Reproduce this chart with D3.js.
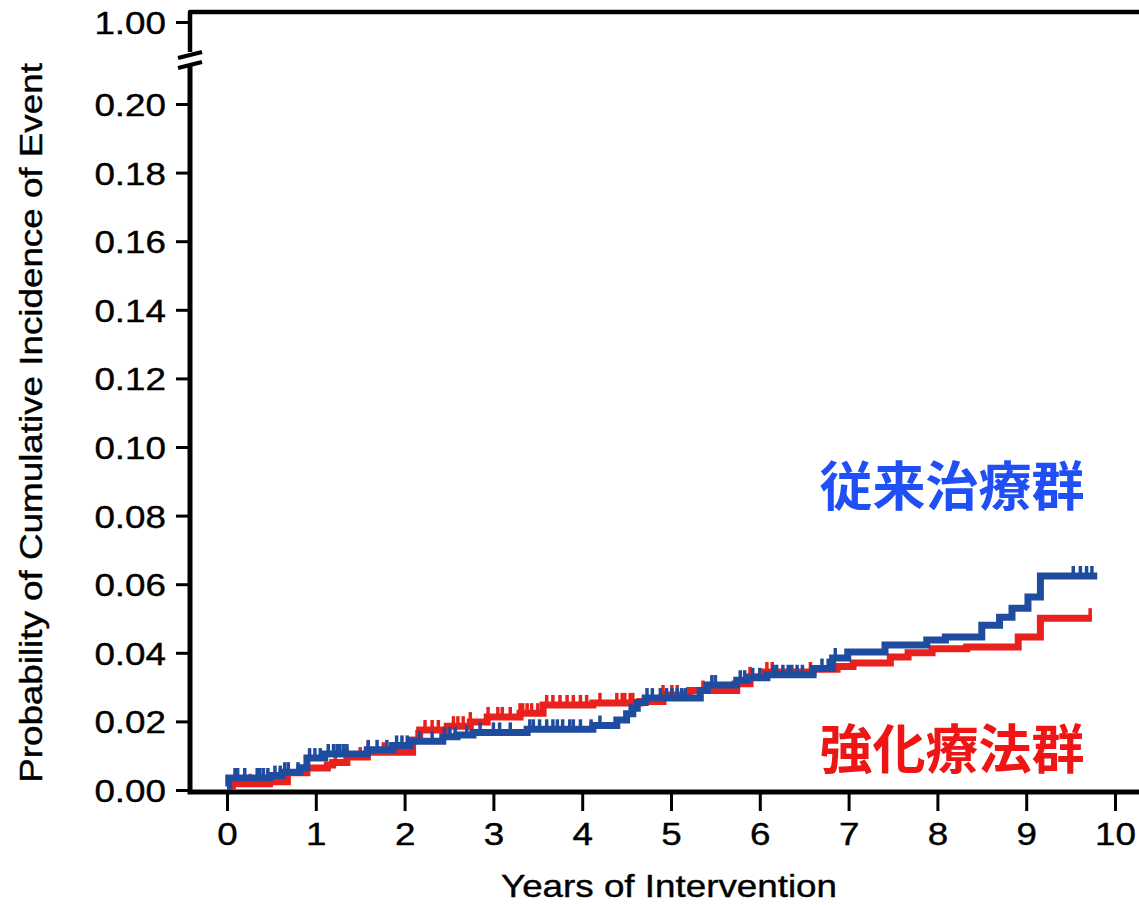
<!DOCTYPE html>
<html>
<head>
<meta charset="utf-8">
<script src="https://cdn.jsdelivr.net/npm/d3@7"></script>
<style>
  html, body { margin: 0; padding: 0; background: #fff; }
  svg { display: block; }
</style>
</head>
<body>
<script>
// ---------------- DATA ----------------
const xTickValues = [0,1,2,3,4,5,6,7,8,9,10];
const yTickValues = [0,0.02,0.04,0.06,0.08,0.10,0.12,0.14,0.16,0.18,0.20,1.00];

// 従来治療群 (conventional) – step times (years) and cumulative incidence after each step
const blueTimes  = [0, 0.02, 0.48, 0.62, 0.82, 0.90, 1.10, 1.58, 1.87, 2.06, 2.43, 2.59, 2.77, 3.38, 4.12, 4.39, 4.50, 4.57, 4.62, 4.71, 5.33, 5.41, 5.74, 5.86, 6.08, 6.60, 6.82, 6.99, 7.41, 7.88, 8.09, 8.50, 8.70, 8.84, 9.02, 9.16];
const blueValues = [0.001, 0.0035, 0.0042, 0.0052, 0.0065, 0.0093, 0.0105, 0.0117, 0.0130, 0.0142, 0.0155, 0.0160, 0.0168, 0.0177, 0.0188, 0.0204, 0.0222, 0.0238, 0.0255, 0.0268, 0.0290, 0.0306, 0.0320, 0.0327, 0.0336, 0.0354, 0.0385, 0.0402, 0.0423, 0.0437, 0.0446, 0.0480, 0.0504, 0.0530, 0.0563, 0.0624];
const blueEnd = 9.80;
const blueCensor = [0.09,0.12,0.20,0.34,0.37,0.41,0.46,0.54,0.60,0.65,0.69,0.80,0.93,0.99,1.05,1.14,1.20,1.24,1.27,1.31,1.35,1.59,1.69,1.80,1.91,1.97,2.03,2.17,2.31,2.45,2.51,2.57,2.70,2.85,3.00,3.07,3.19,3.41,3.45,3.52,3.60,3.67,3.72,3.78,3.86,3.90,3.98,4.10,4.20,4.54,4.73,4.79,4.88,4.95,5.01,5.07,5.12,5.16,5.46,5.50,5.78,5.83,5.92,6.00,6.15,6.19,6.26,6.32,6.36,6.42,6.48,6.70,6.77,6.85,9.53,9.61,9.68,9.74];

// 強化療法群 (intensive) – step times and values
const redTimes  = [0, 0.06, 0.48, 0.68, 0.90, 1.13, 1.19, 1.35, 1.58, 2.09, 2.17, 2.48, 2.74, 2.93, 3.30, 3.56, 4.12, 4.65, 4.91, 5.21, 5.74, 5.89, 6.04, 6.60, 6.87, 7.05, 7.47, 7.67, 7.94, 8.33, 8.91, 9.16];
const redValues = [0.001, 0.0018, 0.0024, 0.0050, 0.0064, 0.0073, 0.0080, 0.0096, 0.0110, 0.0146, 0.0175, 0.0186, 0.0198, 0.0213, 0.0224, 0.0248, 0.0254, 0.0258, 0.0277, 0.0290, 0.0310, 0.0330, 0.0344, 0.0352, 0.0360, 0.0370, 0.0388, 0.0400, 0.0412, 0.0417, 0.0446, 0.0501];
const redEnd = 9.74;
const redCensor = [0.03,0.26,1.22,1.35,1.50,1.59,1.76,1.84,1.89,2.14,2.23,2.31,2.38,2.55,2.60,2.66,2.74,2.94,3.05,3.10,3.19,3.30,3.33,3.38,3.43,3.50,3.60,3.67,3.75,3.83,3.90,3.98,4.05,4.20,4.39,4.45,4.48,4.54,4.57,4.91,5.01,5.07,5.36,5.70,5.89,6.08,6.14,6.57,9.72];

const blueLabel = "従来治療群";
const redLabel  = "強化療法群";
const xTitle = "Years of Intervention";
const yTitle = "Probability of Cumulative Incidence of Event";

// ---------------- LAYOUT ----------------
const W = 1139, H = 905;
const blueColor = "#1f4c9e", redColor = "#e8211d";
const blueText = "#2050f5", redText = "#f01515";
const FONT = "'Liberation Sans', Arial, Helvetica, sans-serif";
const STRETCH = 1.15;

const svg = d3.select("body").append("svg").attr("width", W).attr("height", H);

const x = d3.scaleLinear().domain([0, 10]).range([227, 1115]);
const y = d3.scaleLinear().domain([0, 0.20, 1.00]).range([790, 104, 22]);

const axisX = 190, axisY = 792, topY = 12;

// axes ticks
const gx = svg.append("g").attr("transform", `translate(0,${axisY + 2})`)
  .call(d3.axisBottom(x).tickValues(xTickValues).tickSize(17).tickPadding(0).tickFormat(d3.format("d")));
gx.select(".domain").remove();
gx.selectAll(".tick line").attr("stroke", "#000").attr("stroke-width", 3);
gx.selectAll(".tick text").remove();
gx.selectAll(".tick").append("text")
  .attr("transform", `translate(0,51) scale(${STRETCH},1)`)
  .attr("text-anchor", "middle").attr("fill", "#000")
  .style("font-family", FONT).style("font-size", "32px")
  .style("stroke", "#000").style("stroke-width", 0.4)
  .text(d => d3.format("d")(d));

const gy = svg.append("g").attr("transform", `translate(${axisX - 2},0)`)
  .call(d3.axisLeft(y).tickValues(yTickValues).tickSize(12).tickFormat(d3.format(".2f")));
gy.select(".domain").remove();
gy.selectAll(".tick line").attr("stroke", "#000").attr("stroke-width", 3);
gy.selectAll(".tick text").remove();
gy.selectAll(".tick").append("text")
  .attr("transform", `translate(-22,11.5) scale(${STRETCH},1)`)
  .attr("text-anchor", "end").attr("fill", "#000")
  .style("font-family", FONT).style("font-size", "32px")
  .style("stroke", "#000").style("stroke-width", 0.4)
  .text(d => d3.format(".2f")(d));

// frame: left axis (with break), top line, bottom axis
const breakTop = 52, breakBot = 66;
svg.append("path")
  .attr("d", `M${axisX},${breakTop} L${axisX},${topY} L${W + 5},${topY}`)
  .attr("fill", "none").attr("stroke", "#000").attr("stroke-width", 4.5).attr("stroke-linejoin", "round");
svg.append("path")
  .attr("d", `M${axisX},${breakBot} L${axisX},${axisY} L${W + 5},${axisY}`)
  .attr("fill", "none").attr("stroke", "#000").attr("stroke-width", 5).attr("stroke-linejoin", "miter");
// break marks
[0, 1].forEach(i => {
  const off = i * 10;
  svg.append("line")
    .attr("x1", axisX - 12).attr("y1", 58 + off)
    .attr("x2", axisX + 12).attr("y2", 52 + off)
    .attr("stroke", "#000").attr("stroke-width", 4);
});

// curves
function stepValue(times, values, t) {
  const i = d3.bisectRight(times, t) - 1;
  return values[Math.max(0, i)];
}
function drawCurve(times, values, endT, censor, color) {
  const pts = times.map((t, i) => [t, values[i]]);
  pts.push([endT, values[values.length - 1]]);
  const line = d3.line().x(d => x(d[0])).y(d => y(d[1])).curve(d3.curveStepAfter);
  svg.append("path").datum(pts)
    .attr("d", line).attr("fill", "none").attr("stroke", color)
    .attr("stroke-width", 7).attr("stroke-linejoin", "miter");
  svg.append("g").selectAll("line").data(censor).join("line")
    .attr("x1", d => x(d)).attr("x2", d => x(d))
    .attr("y1", d => y(stepValue(times, values, d)))
    .attr("y2", d => y(stepValue(times, values, d)) - 10)
    .attr("stroke", color).attr("stroke-width", 3.5);
}
drawCurve(redTimes, redValues, redEnd, redCensor, redColor);
drawCurve(blueTimes, blueValues, blueEnd, blueCensor, blueColor);

// group labels
svg.append("text").attr("x", 952).attr("y", 506)
  .attr("text-anchor", "middle").attr("fill", blueText)
  .style("font-family", "'Noto Sans CJK JP', sans-serif").style("font-weight", "700").style("font-size", "53px")
  .text(blueLabel);
svg.append("text").attr("x", 952).attr("y", 769)
  .attr("text-anchor", "middle").attr("fill", redText)
  .style("font-family", "'Noto Sans CJK JP', sans-serif").style("font-weight", "700").style("font-size", "53px")
  .text(redLabel);

// axis titles
svg.append("text")
  .attr("transform", `translate(669,897) scale(${STRETCH},1)`)
  .attr("text-anchor", "middle").attr("fill", "#000")
  .style("font-family", FONT).style("font-size", "32px")
  .style("stroke", "#000").style("stroke-width", 0.4)
  .text(xTitle);
svg.append("text")
  .attr("transform", `translate(42,423) rotate(-90) scale(${STRETCH},1)`)
  .attr("text-anchor", "middle").attr("fill", "#000")
  .style("font-family", FONT).style("font-size", "32px")
  .style("stroke", "#000").style("stroke-width", 0.4)
  .text(yTitle);
</script>
</body>
</html>
